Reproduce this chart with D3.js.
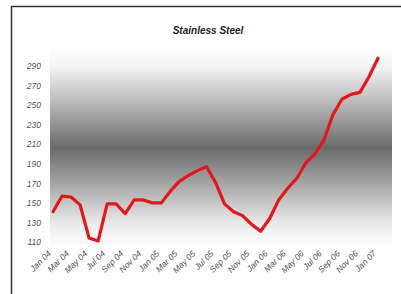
<!DOCTYPE html>
<html>
<head>
<meta charset="utf-8">
<script src="https://cdn.jsdelivr.net/npm/d3@7"></script>
<style>
  body { margin: 0; background: #fff; }
  svg { display: block; }
  .axis-label { font-family: "Liberation Sans", Arial, sans-serif; font-style: italic; font-size: 8.5px; fill: #555; }
</style>
</head>
<body>
<div id="chart"></div>
<script>
// monthly values Jan 04 .. Jan 07
const months = ["Jan 04","Feb 04","Mar 04","Apr 04","May 04","Jun 04","Jul 04","Aug 04","Sep 04","Oct 04","Nov 04","Dec 04",
                "Jan 05","Feb 05","Mar 05","Apr 05","May 05","Jun 05","Jul 05","Aug 05","Sep 05","Oct 05","Nov 05","Dec 05",
                "Jan 06","Feb 06","Mar 06","Apr 06","May 06","Jun 06","Jul 06","Aug 06","Sep 06","Oct 06","Nov 06","Dec 06",
                "Jan 07"];
const prices = [141, 157, 156, 148, 114, 111, 149, 149, 139, 153, 153, 150,
                150, 162, 172, 178, 183, 187, 171, 149, 141, 137, 128, 121,
                134, 153, 165, 175, 191, 200, 214, 240, 256, 261, 263, 279,
                298];
const yTicks = [110, 130, 150, 170, 190, 210, 230, 250, 270, 290];
const xTickLabels = months.filter((m, i) => i % 2 === 0);
const title = "Stainless Steel";

const W = 401, H = 294;
const svg = d3.select("#chart").append("svg")
    .attr("width", W)
    .attr("height", H);

// frame (top + left edges)
svg.append("path")
    .attr("d", "M11.5,294V6.5H401")
    .attr("fill", "none")
    .attr("stroke", "#333")
    .attr("stroke-width", 1.5);

// gradient plot background
const grad = svg.append("defs").append("linearGradient")
    .attr("id", "bg")
    .attr("x1", 0).attr("y1", 0).attr("x2", 0).attr("y2", 1);
[[0, "#ffffff"], [0.1, "#f2f2f2"], [0.3, "#b0b0b0"], [0.5, "#6a6a6a"], [0.7, "#adadad"], [0.88, "#ebebeb"], [1, "#ffffff"]]
    .forEach(s => grad.append("stop").attr("offset", s[0]).attr("stop-color", s[1]));

svg.append("rect")
    .attr("x", 50).attr("y", 48)
    .attr("width", 342).attr("height", 200)
    .attr("fill", "url(#bg)");

const x = d3.scalePoint()
    .domain(months)
    .range([53, 378]);

const y = d3.scaleLinear()
    .domain([110, 290])
    .range([242, 66]);

// title
svg.append("text")
    .attr("x", 208).attr("y", 34)
    .attr("text-anchor", "middle")
    .style("font-family", "Liberation Sans, Arial, sans-serif")
    .style("font-weight", "bold")
    .style("font-style", "italic")
    .style("font-size", "10px")
    .style("fill", "#222")
    .text(title);

// y labels
const yAxis = d3.axisLeft(y).tickValues(yTicks).tickSize(0).tickPadding(0);
const gy = svg.append("g")
    .attr("transform", "translate(41,0)")
    .call(yAxis);
gy.select(".domain").remove();
gy.selectAll("text")
    .attr("class", "axis-label")
    .attr("fill", null)
    .attr("dy", "0.32em");

// x labels
const xAxis = d3.axisBottom(x).tickValues(xTickLabels).tickSize(0).tickPadding(0);
const gx = svg.append("g")
    .attr("transform", "translate(0,252)")
    .call(xAxis);
gx.select(".domain").remove();
gx.selectAll("text")
    .attr("class", "axis-label")
    .attr("fill", null)
    .attr("y", 0)
    .attr("dy", "0.35em")
    .attr("text-anchor", "end")
    .attr("transform", "translate(-4,0) rotate(-45)");

// line
const line = d3.line()
    .x((d, i) => x(months[i]))
    .y(d => y(d));

svg.append("path")
    .datum(prices)
    .attr("d", line)
    .attr("fill", "none")
    .attr("stroke", "#e0191c")
    .attr("stroke-width", 3.2)
    .attr("stroke-linejoin", "round")
    .attr("stroke-linecap", "round");
</script>
</body>
</html>
